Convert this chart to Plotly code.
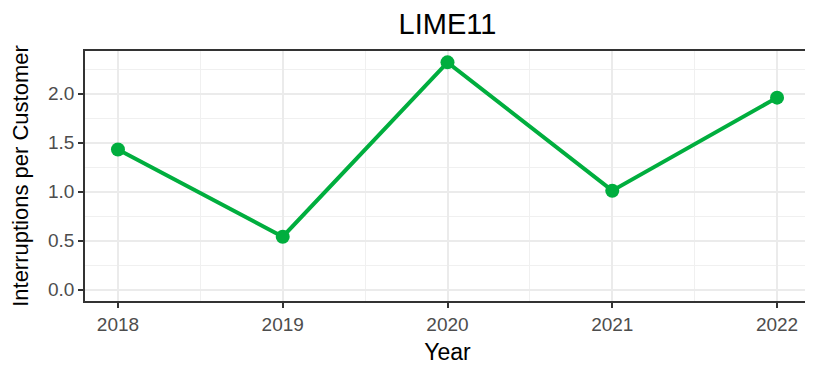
import plotly.graph_objects as go

years = [2018, 2019, 2020, 2021, 2022]
interruptions = [1.43, 0.54, 2.32, 1.01, 1.96]
y_ticks = [0.0, 0.5, 1.0, 1.5, 2.0]
y_tick_labels = ["0.0", "0.5", "1.0", "1.5", "2.0"]

green = "#00AE3E"
font = "Liberation Sans, Arial, sans-serif"

# the page body keeps its default 8px margin, so the figure is drawn 8px smaller
W, H = 813 - 8, 371 - 8

fig = go.Figure()
fig.add_trace(go.Scatter(
    x=years, y=interruptions,
    mode="lines+markers",
    line=dict(color=green, width=4),
    marker=dict(color=green, size=14),
    showlegend=False,
))

axis_common = dict(
    showline=True, linecolor="#333333", linewidth=1.5, mirror=True,
    ticks="outside", ticklen=5, tickwidth=1.5, tickcolor="#333333",
    showgrid=True, gridcolor="#EBEBEB", gridwidth=1.5,
    zeroline=False, automargin=False,
    tickfont=dict(family=font, size=19, color="#4D4D4D"),
)

fig.update_layout(
    width=W, height=H,
    margin=dict(l=77, r=3, t=43, b=70),
    paper_bgcolor="white", plot_bgcolor="white",
    font=dict(family=font, color="black"),
    title=dict(text="LIME11", x=0.5, xref="paper", xanchor="center",
               y=1 - 16 / H, yref="container", yanchor="middle",
               font=dict(family=font, size=29, color="black")),
    xaxis=dict(
        axis_common,
        range=[2017.8, 2022.2],
        tickvals=years, ticktext=[str(y) for y in years],
        minor=dict(dtick=0.5, tick0=2017.5, showgrid=True, gridcolor="#F0F0F0", gridwidth=0.8, ticks=""),
        title=dict(text="Year", font=dict(family=font, size=23, color="black"), standoff=10),
    ),
    yaxis=dict(
        axis_common,
        range=[-0.116, 2.436],
        tickvals=y_ticks, ticktext=y_tick_labels,
        minor=dict(dtick=0.25, tick0=0.25, showgrid=True, gridcolor="#F0F0F0", gridwidth=0.8, ticks=""),
        title=dict(text="Interruptions per Customer", font=dict(family=font, size=22, color="black"), standoff=18),
    ),
)

fig.write_html("out.html")
